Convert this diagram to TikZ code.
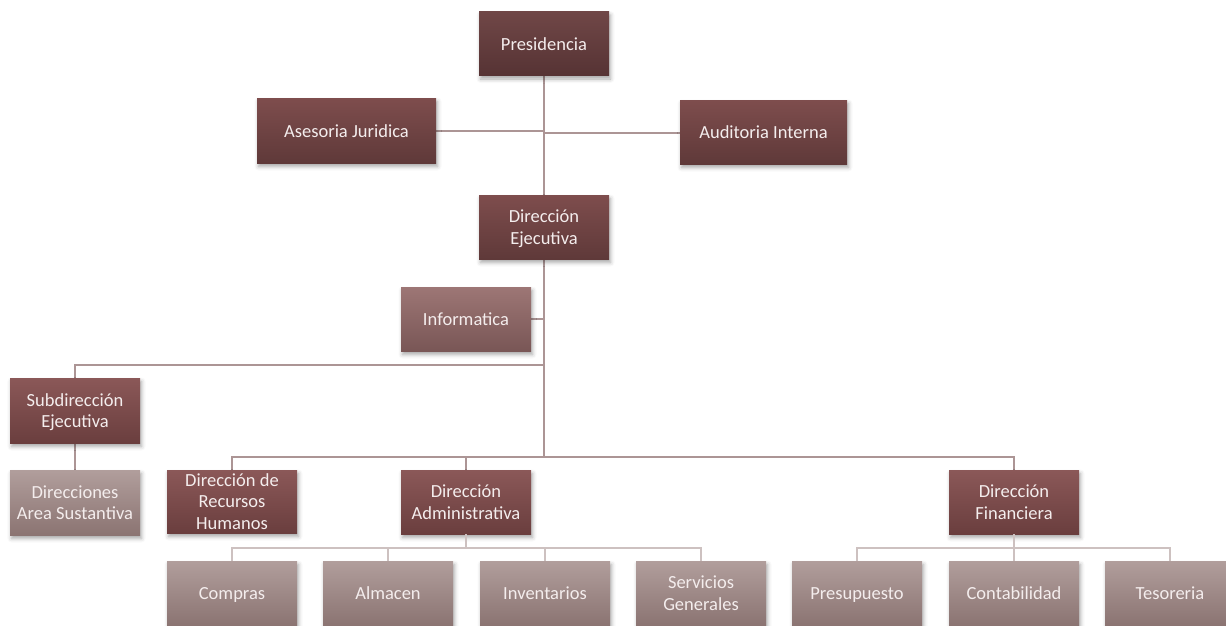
\documentclass[tikz,border=0pt]{standalone}
\usepackage{fontspec}
\setmainfont{Carlito}
\usetikzlibrary{shadows.blur}

\definecolor{boxtext}{HTML}{F4EDED}
\definecolor{presTop}{HTML}{704747}
\definecolor{presBot}{HTML}{563334}
\definecolor{lvTwoTop}{HTML}{7E4D4D}
\definecolor{lvTwoBot}{HTML}{5F3939}
\definecolor{lvThreeTop}{HTML}{8B5858}
\definecolor{lvThreeBot}{HTML}{6A3E3E}
\definecolor{infTop}{HTML}{9D7675}
\definecolor{infBot}{HTML}{795656}
\definecolor{lightTop}{HTML}{B19E9C}
\definecolor{lightBot}{HTML}{8B7472}
\definecolor{linkUpper}{HTML}{AC9595}
\definecolor{linkLower}{HTML}{CDC1C0}

% invisible rule that fixes the height and depth of a single text line
\newcommand{\boxstrut}{\rule[-4.5pt]{0pt}{22pt}}

\tikzset{
  box/.style={rectangle, minimum width=130pt, minimum height=64pt, inner sep=0pt,
    align=center, text=boxtext, font=\fontsize{18.5}{21.5}\selectfont,
    execute at begin node=\boxstrut, execute at end node=\boxstrut,
    blur shadow={shadow xshift=1.5pt, shadow yshift=-3.5pt,
      shadow blur radius=4pt, shadow opacity=35}},
  % stacked lines: trim the text depth so the block sits a little lower
  multi/.style={text depth=-0.5pt},
  presbox/.style={box, top color=presTop, bottom color=presBot},
  headbox/.style={box, top color=lvTwoTop, bottom color=lvTwoBot},
  deptbox/.style={box, top color=lvThreeTop, bottom color=lvThreeBot},
  infbox/.style={box, top color=infTop, bottom color=infBot},
  unitbox/.style={box, top color=lightTop, bottom color=lightBot},
  link/.style={draw=linkUpper, line width=2pt},
  sublink/.style={draw=linkLower, line width=2pt}
}

\begin{document}
\begin{tikzpicture}[x=1pt, y=-1pt]
  \useasboundingbox (0,0) rectangle (1226,625);
  \clip (0,0) rectangle (1226,625);

  % junction points of the tree
  \coordinate (jsub) at (544,365);
  \coordinate (jdept) at (544,456.5);
  \coordinate (jadm) at (466,548);
  \coordinate (jfin) at (1014,548);

  % connectors (drawn first, boxes lie over their ends)
  \coordinate (presfoot) at (544,76);
  \coordinate (dejtop) at (544,195);
  \coordinate (dejfoot) at (544,259);
  \draw[link] (presfoot) -- (dejtop);
  \draw[link] (dejfoot) -- (jdept);
  \draw[link] (436,130.5) coordinate (asecon) -- (asecon -| presfoot);
  \draw[link] (680,132.5) coordinate (audcon) -- (audcon -| presfoot);
  \draw[link] (531,319) coordinate (infcon) -- (infcon -| presfoot);
  \draw[link] (jsub) -| (75,378) coordinate (subtop);
  \draw[link] (75,443) coordinate (subfoot) -- (75,470) coordinate (dastop);
  \draw[link] (jdept) -| (232,470) coordinate (rhtop);
  \draw[link] (jdept) -| (466,470) coordinate (admtop);
  \draw[link] (jdept) -| (1014,470) coordinate (fintop);

  % top of the organisation
  \node[presbox] (pres) at (544,43.5) {Presidencia};
  \node[headbox, minimum width=179pt, minimum height=65pt] (ase) at (346.5,130.5) {Asesoria Juridica};
  \node[headbox, minimum width=167pt] (aud) at (763.5,132) {Auditoria Interna};
  \node[headbox, multi] (dej) at (544,227) {Dirección\\Ejecutiva};
  \node[infbox] (inf) at (466,319) {Informatica};

  % directorates
  \node[deptbox, multi, minimum height=65pt] (sub) at (75,410.5) {Subdirección\\Ejecutiva};
  \node[unitbox, multi, minimum height=65pt] (das) at (75,502.5) {Direcciones\\Area Sustantiva};
  \node[deptbox, multi, text depth=-1.5pt, minimum height=63pt] (rh) at (232,501.5) {Dirección de\\Recursos\\Humanos};
  \node[deptbox, multi] (adm) at (466,502) {Dirección\\Administrativa};
  \node[deptbox, multi] (fin) at (1014,502) {Dirección\\Financiera};

  % units below the administrative and financial directorates
  \draw[sublink] (adm.south) -- (jadm);
  \draw[sublink] (fin.south) -- (jfin);
  \foreach \nm/\xx/\txt in {comp/232/Compras, alm/388/Almacen, inv/545/Inventarios} {
    \node[unitbox] (\nm) at (\xx,593) {\txt};
    \draw[sublink] (jadm) -| (\nm.north);
  }
  \node[unitbox, multi] (serv) at (701,593) {Servicios\\Generales};
  \draw[sublink] (jadm) -| (serv.north);
  \foreach \nm/\xx/\txt in {pres/857/Presupuesto, cont/1014/Contabilidad, tes/1170/Tesoreria} {
    \node[unitbox] (u\nm) at (\xx,593) {\txt};
    \draw[sublink] (jfin) -| (u\nm.north);
  }
\end{tikzpicture}
\end{document}
